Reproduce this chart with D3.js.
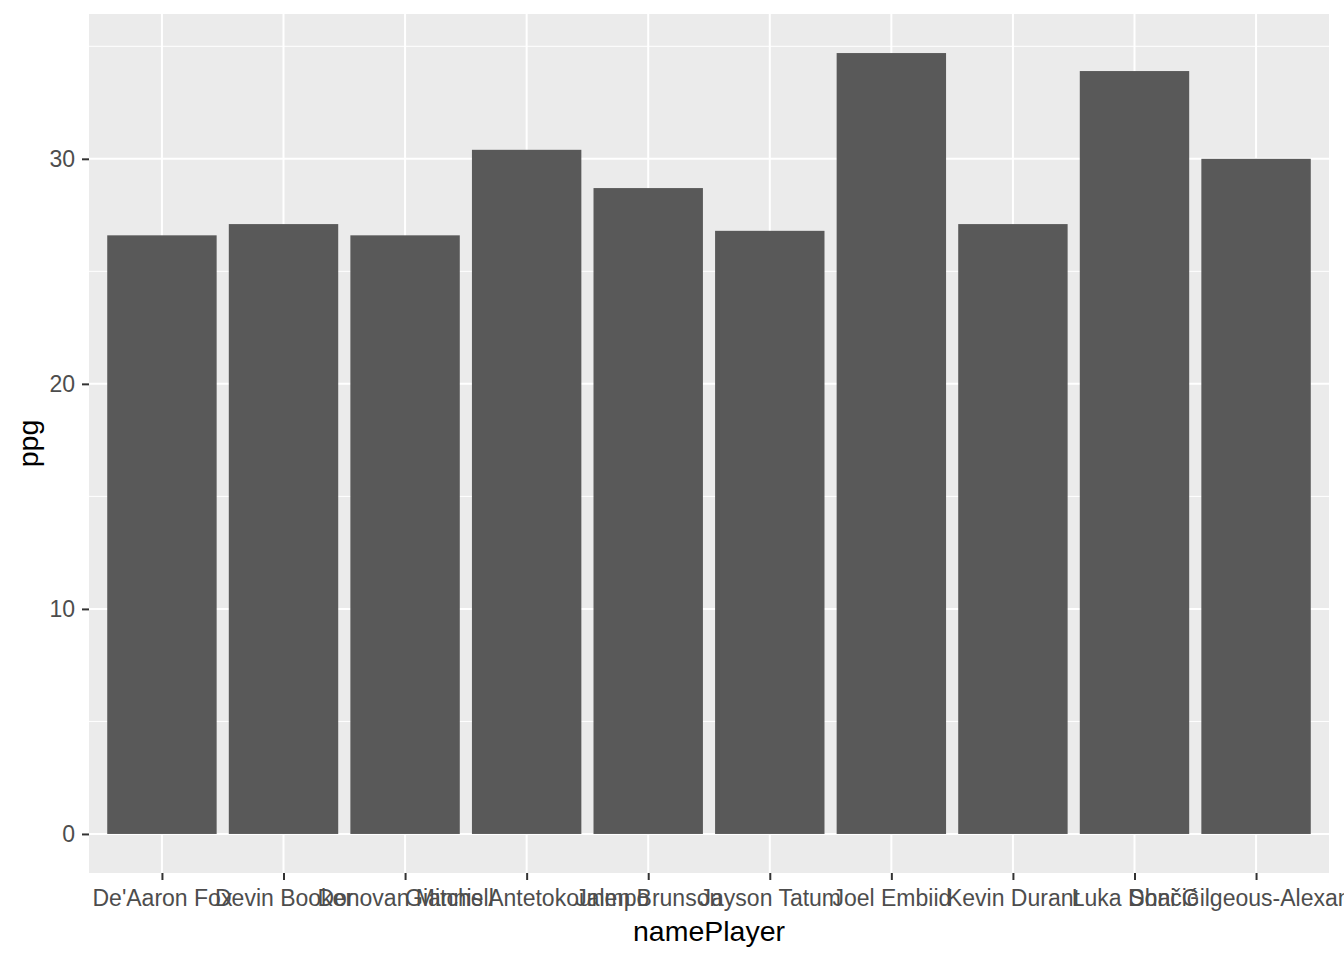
<!DOCTYPE html>
<html>
<head>
<meta charset="utf-8">
<script src="https://cdn.jsdelivr.net/npm/d3@7"></script>
<style>
  body { margin: 0; background: #fff; }
  text { font-family: "Liberation Sans", Arial, sans-serif; }
</style>
</head>
<body>
<svg id="chart" width="1344" height="960"></svg>
<script>
const players = [
  "De'Aaron Fox", 'Devin Booker', 'Donovan Mitchell', 'Giannis Antetokounmpo',
  'Jalen Brunson', 'Jayson Tatum', 'Joel Embiid', 'Kevin Durant',
  'Luka Dončić', 'Shai Gilgeous-Alexander'
]
const ppg = [26.6, 27.1, 26.6, 30.4, 28.7, 26.8, 34.7, 27.1, 33.9, 30.0]
const yTicks = [0, 10, 20, 30]
const yMinor = [5, 15, 25, 35]

const W = 1344, H = 960
const margin = { top: 14, right: 15, bottom: 87, left: 89 }
const svg = d3.select('#chart')

const pw = W - margin.left - margin.right
const ph = H - margin.top - margin.bottom

// ggplot style expansion: 0.6 units on discrete axis, 5% on continuous
const x = d3.scaleLinear()
  .domain([0.4, players.length + 0.6])
  .range([margin.left, margin.left + pw])
const yMax = d3.max(ppg)
const y = d3.scaleLinear()
  .domain([-yMax * 0.05, yMax * 1.05])
  .range([margin.top + ph, margin.top])

// panel
svg.append('rect')
  .attr('x', margin.left).attr('y', margin.top)
  .attr('width', pw).attr('height', ph)
  .attr('fill', '#EBEBEB')

// minor grid
svg.append('g').selectAll('line')
  .data(yMinor)
  .join('line')
  .attr('x1', margin.left).attr('x2', margin.left + pw)
  .attr('y1', d => y(d)).attr('y2', d => y(d))
  .attr('stroke', '#fff').attr('stroke-width', 1)

// major grid
svg.append('g').selectAll('line')
  .data(yTicks)
  .join('line')
  .attr('x1', margin.left).attr('x2', margin.left + pw)
  .attr('y1', d => y(d)).attr('y2', d => y(d))
  .attr('stroke', '#fff').attr('stroke-width', 2)

svg.append('g').selectAll('line')
  .data(players)
  .join('line')
  .attr('x1', (d, i) => x(i + 1)).attr('x2', (d, i) => x(i + 1))
  .attr('y1', margin.top).attr('y2', margin.top + ph)
  .attr('stroke', '#fff').attr('stroke-width', 2)

// bars
const bw = (x(2) - x(1)) * 0.9
svg.append('g').selectAll('rect')
  .data(ppg)
  .join('rect')
  .attr('x', (d, i) => x(i + 1) - bw / 2)
  .attr('width', bw)
  .attr('y', d => y(d))
  .attr('height', d => y(0) - y(d))
  .attr('fill', '#595959')

// axes
const xAxis = d3.axisBottom(x)
  .tickValues(d3.range(1, players.length + 1))
  .tickFormat(i => players[i - 1])
  .tickSize(7)
  .tickPadding(9.5)
const gx = svg.append('g')
  .attr('transform', `translate(0,${margin.top + ph})`)
  .call(xAxis)
gx.select('.domain').remove()
gx.selectAll('line').attr('stroke', '#333').attr('stroke-width', 2)
gx.selectAll('text').attr('fill', '#4D4D4D').style('font-size', '23px')

const yAxis = d3.axisLeft(y)
  .tickValues(yTicks)
  .tickSize(7)
  .tickPadding(7)
const gy = svg.append('g')
  .attr('transform', `translate(${margin.left},0)`)
  .call(yAxis)
gy.select('.domain').remove()
gy.selectAll('line').attr('stroke', '#333').attr('stroke-width', 2)
gy.selectAll('text').attr('fill', '#4D4D4D').style('font-size', '23px')

// titles
svg.append('text')
  .attr('x', margin.left + pw / 2)
  .attr('y', 941)
  .attr('text-anchor', 'middle')
  .style('font-size', '28.5px')
  .attr('fill', '#000')
  .text('namePlayer')

svg.append('text')
  .attr('transform', `translate(38,${margin.top + ph / 2}) rotate(-90)`)
  .attr('text-anchor', 'middle')
  .style('font-size', '28.5px')
  .attr('fill', '#000')
  .text('ppg')
</script>
</body>
</html>
